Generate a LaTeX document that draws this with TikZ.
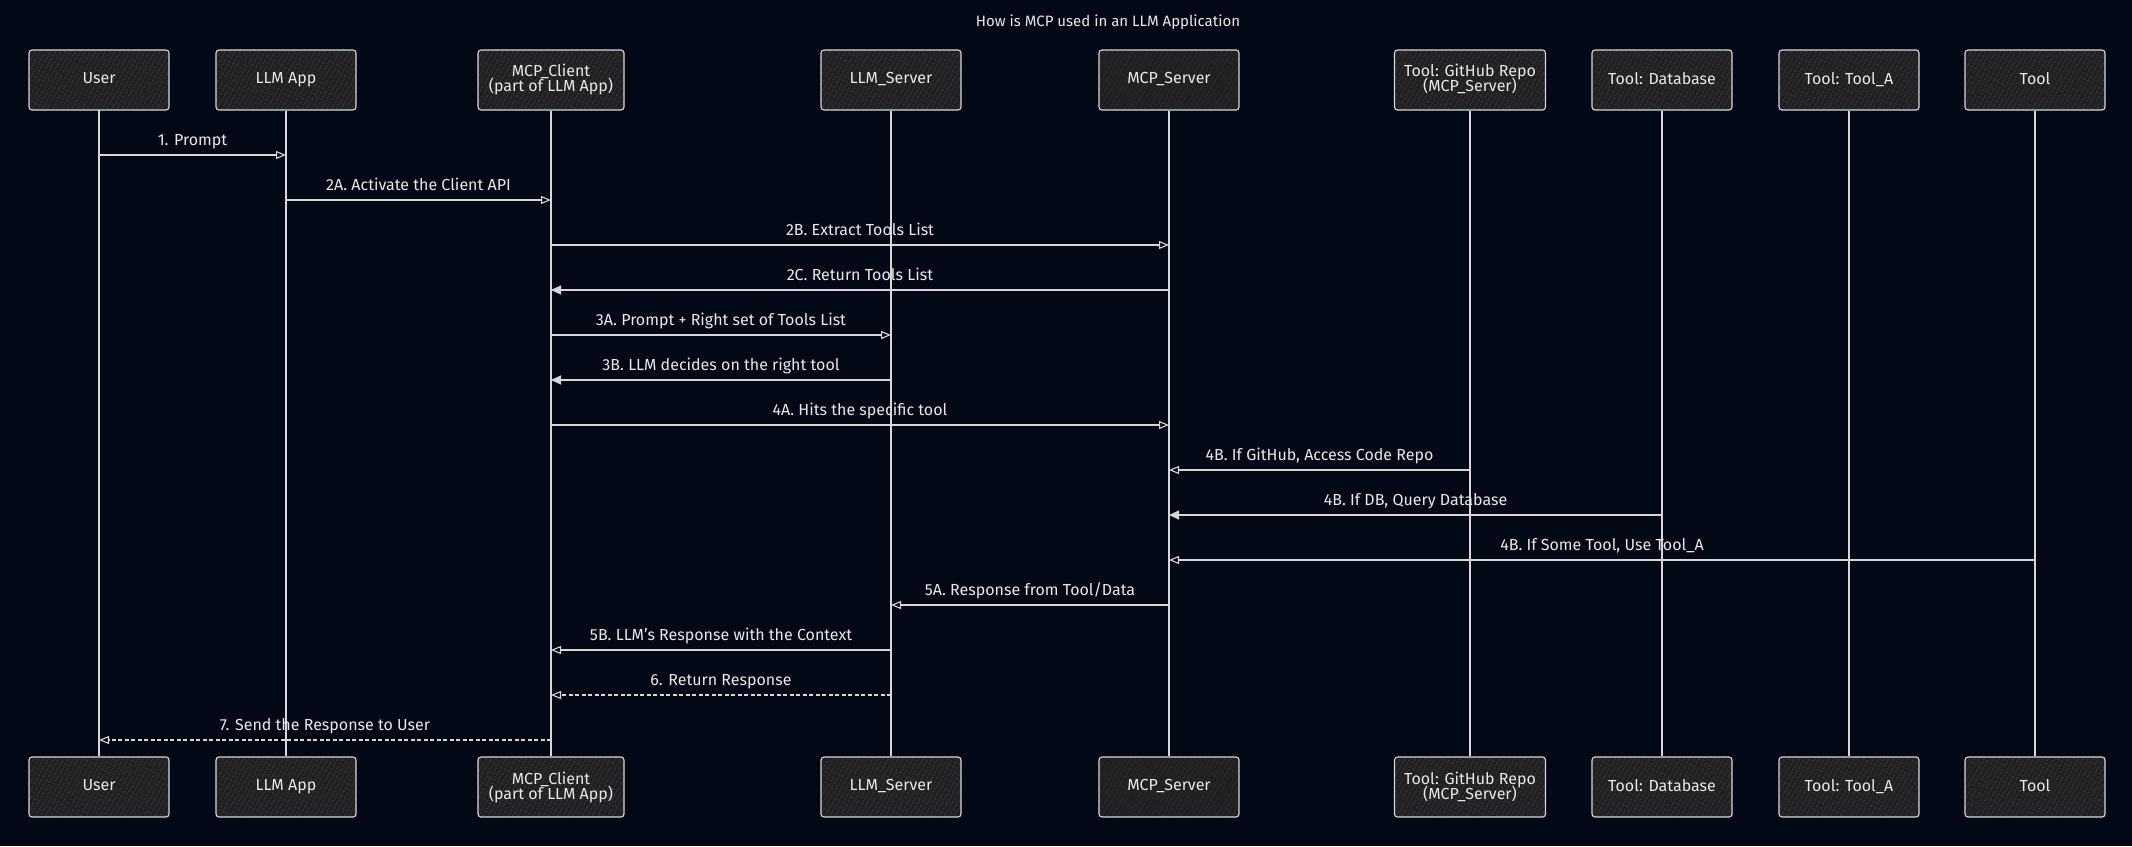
\documentclass[tikz,border=0pt]{standalone}
\usepackage{fontspec}
\setmainfont{Fira Sans}
\usetikzlibrary{arrows.meta,patterns.meta}

\definecolor{bg}{RGB}{3,8,22}
\definecolor{boxfill}{RGB}{32,32,34}
\definecolor{hatch}{RGB}{58,58,60}
\definecolor{ink}{RGB}{215,215,215}
\definecolor{txt}{RGB}{232,232,232}

\begin{document}
\begin{tikzpicture}[x=1pt,y=-1pt, font=\fontsize{16}{17}\selectfont, text=txt,
    actor/.style={draw=ink, line width=1.1pt, rounded corners=3pt, minimum height=60pt,
        align=center, inner sep=2pt, execute at begin node={\rule[-3.5pt]{0pt}{14.5pt}},
        preaction={fill=boxfill}, pattern={Lines[angle=60,distance=4pt,line width=0.5pt]}, pattern color=hatch},
    lifeline/.style={draw=ink, line width=1.1pt},
    openmsg/.style={draw=ink, line width=1.1pt, -{Triangle[open,length=10pt,width=8pt]}},
    solidmsg/.style={draw=ink, line width=1.1pt, -{Triangle[length=10pt,width=9pt]}},
    dashmsg/.style={openmsg, dash pattern=on 4pt off 2.5pt},
    label/.style={midway, above, inner sep=4pt, text=txt, execute at begin node=\strut}]

    \useasboundingbox[fill=bg] (0,0) rectangle (2132,846);

    \node[font=\fontsize{15}{16}\selectfont] (title) at (1108,22) {How is MCP used in an LLM Application};

    % participants, top and bottom, joined by their lifelines
    \foreach \name/\x/\w/\txt in {user/99/140/User, app/286/140/LLM App,
        client/551/146/{MCP\_Client\\[-2pt](part of LLM App)}, llm/891/140/LLM\_Server,
        server/1169/140/MCP\_Server, github/1470/151/{Tool: GitHub Repo\\[-2pt](MCP\_Server)},
        db/1662/140/Tool: Database, toola/1849/140/Tool: Tool\_A, tool/2035/140/Tool}
    {
        \node[actor, minimum width=\w pt] (\name-top) at (\x,80) {\txt};
        \node[actor, minimum width=\w pt] (\name-bot) at (\x,787) {\txt};
        \draw[lifeline] (\name-top) -- (\name-bot);
    }

    % messages
    \foreach \from/\to/\y/\kind/\txt in {
        user/app/155/openmsg/1. Prompt,
        app/client/200/openmsg/2A. Activate the Client API,
        client/server/245/openmsg/2B. Extract Tools List,
        server/client/290/solidmsg/2C. Return Tools List,
        client/llm/335/openmsg/3A. Prompt + Right set of Tools List,
        llm/client/380/solidmsg/3B. LLM decides on the right tool,
        client/server/425/openmsg/4A. Hits the specific tool,
        github/server/470/openmsg/{4B. If GitHub, Access Code Repo},
        db/server/515/solidmsg/{4B. If DB, Query Database},
        tool/server/560/openmsg/{4B. If Some Tool, Use Tool\_A},
        server/llm/605/openmsg/{5A. Response from Tool/Data},
        llm/client/650/openmsg/5B. LLM's Response with the Context,
        llm/client/695/dashmsg/6. Return Response,
        client/user/740/dashmsg/7. Send the Response to User}
    {
        \draw[\kind] (\from-top |- 0,\y) -- node[label] {\txt} (\to-top |- 0,\y);
    }
\end{tikzpicture}
\end{document}
